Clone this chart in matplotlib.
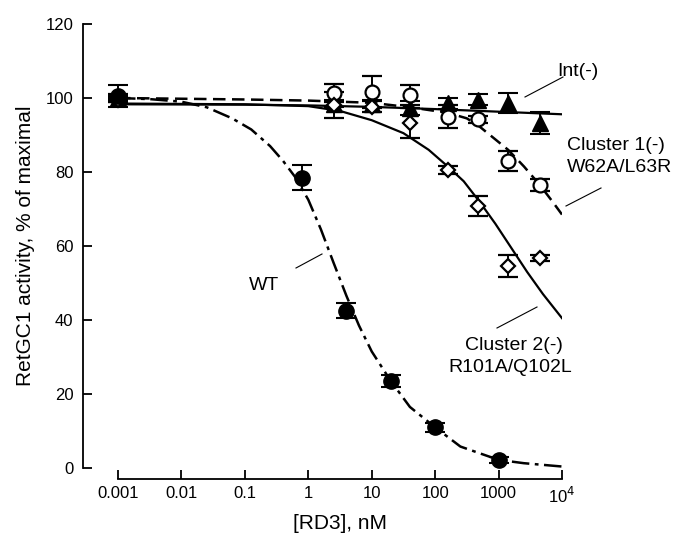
import matplotlib
matplotlib.use("Agg")
import matplotlib.pyplot as plt
from matplotlib.lines import Line2D

plt.rcParams['font.family'] = ['Liberation Sans', 'DejaVu Sans']

# ---- measured points ----
wt_x = [0.001, 0.8, 4, 20, 100, 1000]
wt_y = [100.5, 78.5, 42.5, 23.5, 11, 2.2]
wt_err = [3, 3.3, 2, 1.7, 1.2, 0.8]

mut_x = [0.001, 2.5, 10, 40, 160, 480, 1400, 4500]
int_y = [100, 98.5, 98.5, 97.3, 98.6, 99.5, 98.6, 93.2]
int_err = [0.5, 1, 1, 2, 1.5, 1.5, 2.7, 3]
cl1_y = [100, 101.3, 101.7, 100.8, 95, 94.2, 83, 76.5]
cl1_err = [1, 2.5, 4.3, 2.7, 3, 1, 2.6, 1.5]
cl2_y = [99.5, 98.1, 97.7, 93.2, 80.5, 70.8, 54.5, 56.8]
cl2_err = [0.5, 3.5, 1.5, 4, 1, 2.6, 3, 0.8]

# ---- fitted curves ----
wt_fit_x = [0.001, 0.00316, 0.01, 0.025, 0.063, 0.126, 0.25, 0.4, 0.63, 1,
            1.58, 2.5, 4, 6.3, 10, 20, 40, 100, 250, 1000, 2500, 10000]
wt_fit_y = [100, 99.7, 99, 97.5, 94.5, 91.5, 87, 83, 78.5, 72.5,
            64.5, 55.5, 46.5, 38.5, 31.5, 23.5, 16.5, 11, 5.8, 2.2, 1.3, 0.4]

cl2_fit_x = [0.001, 0.01, 0.1, 1, 3.16, 10, 31.6, 79, 158, 282, 500, 891,
             1585, 2818, 5012, 10000]
cl2_fit_y = [98.5, 98.4, 98.3, 97.8, 96.5, 94, 90.5, 86, 81.5, 77.5, 72, 66,
             59.5, 53, 47, 40.5]

cl1_fit_x = [0.001, 0.1, 1, 10, 40, 158, 316, 500, 794, 1413, 2512, 4467,
             7079, 10000]
cl1_fit_y = [100, 99.6, 99.3, 98.7, 97.5, 96, 94.5, 92.3, 89.5, 86, 81.5,
             76.5, 72, 68.5]

int_fit_x = [0.001, 0.1, 1, 10, 100, 1000, 10000]
int_fit_y = [98.3, 98.2, 98.0, 97.6, 97.0, 96.3, 95.6]

W, H = 681, 534
fig = plt.figure(figsize=(W / 100, H / 100), dpi=100)
ax = fig.add_axes([118 / W, 1 - 468 / H, (562 - 118) / W, (468 - 24) / H])

ax.set_xscale('log')
ax.set_xlim(0.001, 1e4)
ax.set_ylim(0, 120)

lw = 1.8
ax.plot(wt_fit_x, wt_fit_y, color='black', lw=lw,
        linestyle=(0, (7, 2.2, 1.5, 2.2)), zorder=2)
ax.plot(cl1_fit_x, cl1_fit_y, color='black', lw=lw,
        linestyle=(0, (5, 2.6)), zorder=2)
ax.plot(cl2_fit_x, cl2_fit_y, color='black', lw=1.6, zorder=2)
ax.plot(int_fit_x, int_fit_y, color='black', lw=1.6, zorder=2)

eb = dict(color='black', elinewidth=1.4, capsize=7, capthick=1.5,
          linestyle='none', clip_on=False, zorder=3)
ax.errorbar(mut_x, int_y, yerr=int_err, marker='^', ms=12,
            mfc='black', mec='black', **eb)
ax.errorbar(mut_x, cl1_y, yerr=cl1_err, marker='o', ms=10,
            mfc='white', mec='black', mew=1.6, **eb)
ax.errorbar(mut_x, cl2_y, yerr=cl2_err, marker='D', ms=7,
            mfc='white', mec='black', mew=1.6, **eb)
ax.errorbar(wt_x, wt_y, yerr=wt_err, marker='o', ms=11,
            mfc='black', mec='black', **eb)

for s in ['top', 'right']:
    ax.spines[s].set_visible(False)
ax.spines['left'].set_position(('outward', 25))
ax.spines['bottom'].set_position(('outward', 8))
for s in ['left', 'bottom']:
    ax.spines[s].set_linewidth(1.3)

ax.set_yticks([0, 20, 40, 60, 80, 100, 120])
ax.set_xticks([0.001, 0.01, 0.1, 1, 10, 100, 1000, 10000])
ax.set_xticklabels(['0.001', '0.01', '0.1', '1', '10', '100', '1000', '10$^4$'])
ax.minorticks_off()
ax.tick_params(direction='in', length=6.5, width=1.3, labelsize=12)
ax.tick_params(axis='y', pad=7)
ax.tick_params(axis='x', pad=5)

ax.set_xlabel('[RD3], nM', fontsize=15, labelpad=6)
ax.set_ylabel('RetGC1 activity, % of maximal', fontsize=15, labelpad=8)


def fx(px):
    return px / W


def fy(py):
    return 1 - py / H


def leader(x0, y0, x1, y1):
    fig.add_artist(Line2D([fx(x0), fx(x1)], [fy(y0), fy(y1)],
                          color='black', lw=0.8, transform=fig.transFigure))


tsize = 14
fig.text(fx(557), fy(72), 'Int(-)', fontsize=tsize, va='center', ha='left')
leader(525, 97, 563, 77)

fig.text(fx(567), fy(145), 'Cluster 1(-)', fontsize=tsize, va='center', ha='left')
fig.text(fx(567), fy(167), 'W62A/L63R', fontsize=tsize, va='center', ha='left')
leader(566, 206, 601, 188)

fig.text(fx(514), fy(345), 'Cluster 2(-)', fontsize=tsize, va='center', ha='center')
fig.text(fx(510), fy(368), 'R101A/Q102L', fontsize=tsize, va='center', ha='center')
leader(497, 328, 537, 307)

fig.text(fx(264), fy(285), 'WT', fontsize=tsize, va='center', ha='center')
leader(296, 268, 322, 254)

fig.savefig('out.png', dpi=100)
